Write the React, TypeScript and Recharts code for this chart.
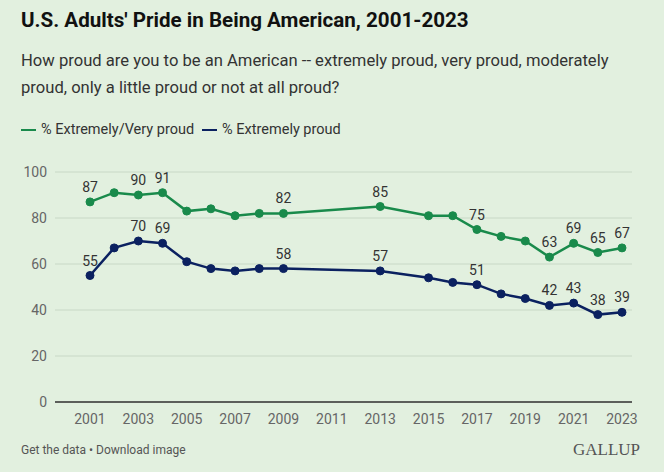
import { LineChart, Line, CartesianGrid, XAxis, YAxis, LabelList } from "recharts";

const years = [2001, 2002, 2003, 2004, 2005, 2006, 2007, 2008, 2009, 2013, 2015, 2016, 2017, 2018, 2019, 2020, 2021, 2022, 2023];
const extremelyVeryProud = [87, 91, 90, 91, 83, 84, 81, 82, 82, 85, 81, 81, 75, 72, 70, 63, 69, 65, 67];
const extremelyProud = [55, 67, 70, 69, 61, 58, 57, 58, 58, 57, 54, 52, 51, 47, 45, 42, 43, 38, 39];
const labeledYears = [2001, 2003, 2004, 2009, 2013, 2017, 2020, 2021, 2022, 2023];
const xTicks = [2001, 2003, 2005, 2007, 2009, 2011, 2013, 2015, 2017, 2019, 2021, 2023];
const yTicks = [0, 20, 40, 60, 80, 100];

const GREEN = "#198a4b";
const NAVY = "#0b2160";
const FONT = "Roboto, 'Noto Sans', sans-serif";

const data = years.map((year, i) => ({
  year,
  veryProud: extremelyVeryProud[i],
  extremely: extremelyProud[i],
}));

const renderLabel = (props: any) => {
  const { x, y, value, index } = props;
  if (!labeledYears.includes(years[index])) return null;
  return (
    <text x={x} y={y - 10} textAnchor="middle" fontSize={14} fill="#333" fontFamily={FONT}>
      {value}
    </text>
  );
};

export default function App() {
  return (
    <div
      style={{
        position: "absolute",
        top: 0,
        left: 0,
        width: 664,
        height: 472,
        background: "#e2f0df",
        fontFamily: FONT,
        overflow: "hidden",
      }}
    >
      <div style={{ position: "absolute", left: 21, top: 8, fontSize: 20.6, fontWeight: 700, color: "#111", whiteSpace: "nowrap" }}>
        U.S. Adults' Pride in Being American, 2001-2023
      </div>
      <div style={{ position: "absolute", left: 21, top: 47, width: 600, fontSize: 16.6, lineHeight: "27px", color: "#333" }}>
        How proud are you to be an American -- extremely proud, very proud, moderately proud, only a little proud or not at all proud?
      </div>
      <div style={{ position: "absolute", left: 21, top: 121, fontSize: 14.5, color: "#333", display: "flex", alignItems: "center", whiteSpace: "nowrap" }}>
        <span style={{ display: "inline-block", width: 15, height: 2, background: GREEN, marginRight: 5 }} />
        <span style={{ marginRight: 8 }}>% Extremely/Very proud</span>
        <span style={{ display: "inline-block", width: 15, height: 2, background: NAVY, marginRight: 5 }} />
        <span>% Extremely proud</span>
      </div>
      <LineChart
        width={664}
        height={472}
        data={data}
        margin={{ top: 172, right: 32, left: 0, bottom: 40 }}
        style={{ position: "absolute", top: 0, left: 0 }}
      >
        <CartesianGrid vertical={false} stroke="#c8d8c6" />
        <XAxis
          dataKey="year"
          type="number"
          domain={[2001, 2023]}
          ticks={xTicks}
          padding={{ left: 35, right: 10 }}
          height={30}
          tickLine={false}
          axisLine={{ stroke: "#333", strokeWidth: 1.5 }}
          tick={{ fontSize: 14, fill: "#666", fontFamily: FONT }}
          tickMargin={6}
          interval={0}
        />
        <YAxis
          domain={[0, 100]}
          ticks={yTicks}
          width={55}
          tickLine={false}
          axisLine={false}
          tick={{ fontSize: 14, fill: "#666", fontFamily: FONT }}
        />
        <Line
          dataKey="veryProud"
          stroke={GREEN}
          strokeWidth={2.5}
          dot={{ r: 4, fill: GREEN, stroke: GREEN, strokeWidth: 1 }}
          isAnimationActive={false}
        >
          <LabelList dataKey="veryProud" content={renderLabel} />
        </Line>
        <Line
          dataKey="extremely"
          stroke={NAVY}
          strokeWidth={2.5}
          dot={{ r: 4, fill: NAVY, stroke: NAVY, strokeWidth: 1 }}
          isAnimationActive={false}
        >
          <LabelList dataKey="extremely" content={renderLabel} />
        </Line>
      </LineChart>
      <div style={{ position: "absolute", left: 21, top: 443, fontSize: 12, color: "#555" }}>
        Get the data • Download image
      </div>
      <div
        style={{
          position: "absolute",
          right: 24,
          top: 440,
          fontSize: 17,
          color: "#555",
          fontFamily: "'Liberation Serif', serif",
        }}
      >
        GALLUP
      </div>
    </div>
  );
}
